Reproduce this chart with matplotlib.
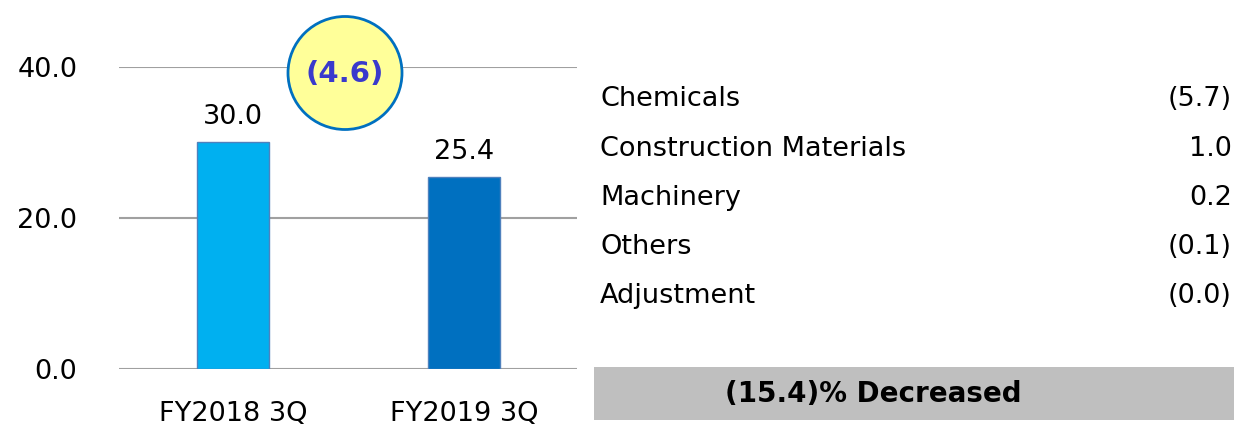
import matplotlib
matplotlib.use("Agg")
import matplotlib.pyplot as plt
from matplotlib.patches import Ellipse, Rectangle

categories = ["FY2018 3Q", "FY2019 3Q"]
values = [30.0, 25.4]
bar_colors = ["#00B0F0", "#0070C0"]
change_label = "(4.6)"
seg_names = ["Chemicals", "Construction Materials", "Machinery", "Others", "Adjustment"]
seg_values = ["(5.7)", "1.0", "0.2", "(0.1)", "(0.0)"]
summary = "(15.4)% Decreased"
yticks = [0.0, 20.0, 40.0]

W, H = 1234, 425
FS = 19.5
fig = plt.figure(figsize=(W / 100, H / 100), dpi=100)
plt.rcParams['font.family'] = ['DejaVu Sans']

def fx(px):
    return px / W

def fy(py):
    return 1 - py / H

ax = fig.add_axes([fx(119), fy(369), fx(577) - fx(119), fy(67) - fy(369)])
x = range(len(categories))
ax.bar(x, values, width=0.31, color=bar_colors, edgecolor="#4F81BD", linewidth=1, zorder=3)
ax.set_xlim(-0.494, 1.489)
ax.set_ylim(0, 40)
ax.set_yticks(yticks)
ax.set_yticklabels([f"{v:.1f}" for v in yticks], fontsize=FS)
ax.set_xticks(list(x))
ax.set_xticklabels(categories, fontsize=FS)
ax.tick_params(axis="both", length=0)
ax.tick_params(axis="y", pad=30)
ax.tick_params(axis="x", pad=23)
for s in ax.spines.values():
    s.set_visible(False)
ax.yaxis.grid(True, color="#A0A0A0", linewidth=1.5, zorder=0)
for i, v in enumerate(values):
    ax.annotate(f"{v:.1f}", (i, v), xytext=(0, 13), textcoords="offset points",
                ha="center", va="baseline", fontsize=FS, color="#000000")

# change circle (in figure pixel coords)
circ = Ellipse((fx(345), fy(73)), width=fx(402) - fx(288), height=(fy(17) - fy(130)),
               transform=fig.transFigure, facecolor="#FFFF99", edgecolor="#0070C0",
               linewidth=2, zorder=10)
fig.patches.append(circ)
fig.text(fx(345), fy(74), change_label, ha="center", va="center", fontsize=21,
         fontweight="bold", color="#3A3ACC", zorder=11)

# segment table
rows_y = [99, 149, 198, 247, 296]
for name, val, yy in zip(seg_names, seg_values, rows_y):
    fig.text(fx(600), fy(yy), name, ha="left", va="center", fontsize=FS)
    fig.text(fx(1232), fy(yy), val, ha="right", va="center", fontsize=FS)

rect = Rectangle((fx(594), fy(420)), fx(1234) - fx(594), fy(367) - fy(420),
                 transform=fig.transFigure, facecolor="#BFBFBF", edgecolor="none")
fig.patches.append(rect)
fig.text(fx(873), fy(394), summary, ha="center", va="center", fontsize=20,
         fontweight="bold")

fig.savefig("out.png", dpi=100)
